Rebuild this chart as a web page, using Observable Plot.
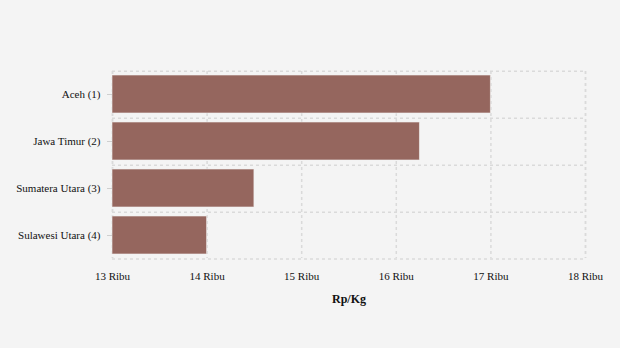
<!DOCTYPE html>
<html>
<head>
<meta charset="utf-8">
<script src="https://cdn.jsdelivr.net/npm/d3@7"></script>
<script src="https://cdn.jsdelivr.net/npm/@observablehq/plot@0.6"></script>
<style>
  html, body { margin: 0; padding: 0; background: #f4f4f4; }
  #chart svg { display: block; }
</style>
</head>
<body>
<div id="chart"></div>
<script>
const provinces = ["Aceh (1)", "Jawa Timur (2)", "Sumatera Utara (3)", "Sulawesi Utara (4)"];
const prices = [17000, 16250, 14500, 14000];
const xTicks = [13000, 14000, 15000, 16000, 17000, 18000];
const xLabel = "Rp/Kg";

const data = provinces.map((p, i) => ({province: p, price: prices[i]}));

const W = 620, H = 348;
const mTop = 71, mBottom = 90, mLeft = 112, mRight = 35;
const step = (H - mTop - mBottom) / provinces.length;
const grid = {stroke: "#dadada", strokeWidth: 1.5, strokeDasharray: "3,3", strokeOpacity: 1};

const chart = Plot.plot({
  width: W,
  height: H,
  marginTop: mTop,
  marginBottom: mBottom,
  marginLeft: mLeft,
  marginRight: mRight,
  style: {background: "#f4f4f4", fontFamily: "'Liberation Serif', 'Times New Roman', serif", fontSize: "11px", color: "#111"},
  x: {domain: [13000, 18000]},
  y: {domain: provinces, paddingInner: 0.2, paddingOuter: 0.08},
  marks: [
    Plot.gridX(xTicks, {...grid}),
    Plot.ruleY(provinces, {y: d => d, dy: -step / 2, ...grid}),
    Plot.ruleY(provinces.slice(-1), {y: d => d, dy: step / 2, ...grid}),
    Plot.ruleX([18000], {...grid}),
    Plot.ruleX([13000], {...grid}),
    Plot.barX(data, {x1: 13000, x2: "price", y: "province", fill: "#95665e", stroke: "#f4f4f4", strokeOpacity: 0.6, strokeWidth: 1}),
    Plot.axisY({tickSize: 5, tickPadding: 7, stroke: "#cfcfcf", label: null, fill: "#111"}),
    Plot.axisX(xTicks, {tickSize: 0, tickPadding: 14, label: null, fill: "#111", tickFormat: d => d / 1000 + " Ribu"}),
    Plot.text([xLabel], {text: d => d, frameAnchor: "bottom", dy: 44, fontWeight: "bold", fontSize: 12, fill: "#111"})
  ]
});
document.getElementById("chart").appendChild(chart);
</script>
</body>
</html>
